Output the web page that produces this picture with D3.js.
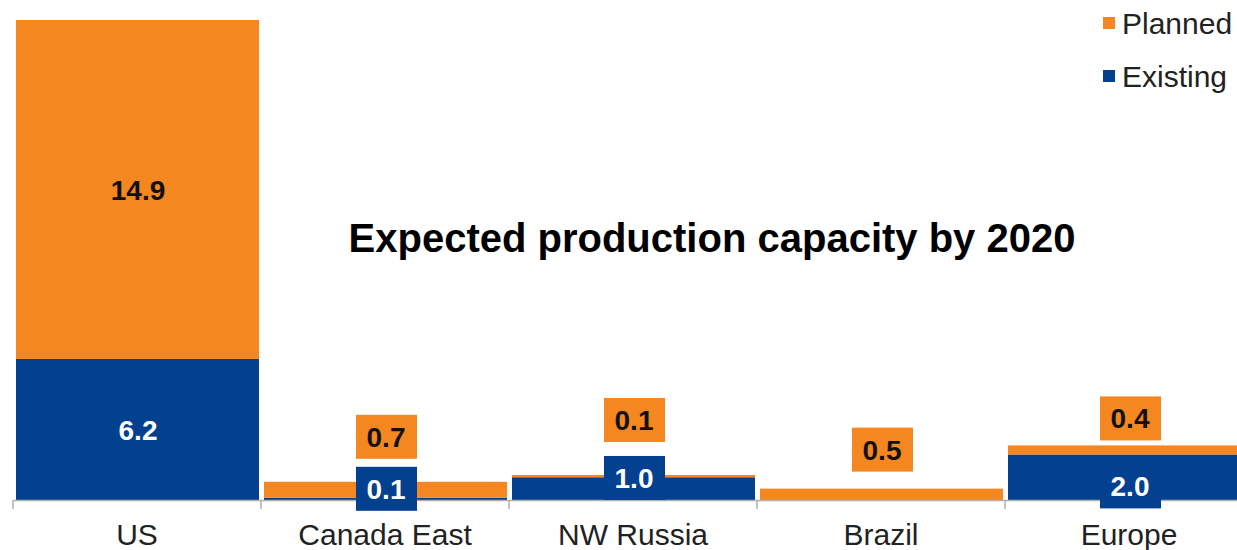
<!DOCTYPE html>
<html>
<head>
<meta charset="utf-8">
<script src="https://cdn.jsdelivr.net/npm/d3@7"></script>
<style>
  body { margin: 0; background: #fff; }
  text { font-family: "Liberation Sans", Arial, sans-serif; }
</style>
</head>
<body>
<svg id="chart" width="1237" height="550"></svg>
<script>
// data
const categories = ['US', 'Canada East', 'NW Russia', 'Brazil', 'Europe']
const existing = [6.2, 0.1, 1.0, 0, 2.0]
const planned = [14.9, 0.7, 0.1, 0.5, 0.4]
const seriesNames = ['Planned', 'Existing']

const ORANGE = '#f4871f'
const BLUE = '#03408f'

// label box placement, offset (px) of box centre from the top of the stack
// null = label sits inside its segment without a box
const plannedBoxDy = [null, -45, -55, -39, -27]
const existingBoxDy = [null, 7, 3, null, 41]

const margin = { top: 20, bottom: 50, left: 13 }
const width = 1237
const height = 550
const baseY = height - margin.bottom

const svg = d3.select('#chart')

const x = d3.scaleBand()
  .domain(categories)
  .range([margin.left, margin.left + 248 * categories.length])
  .padding(0)

const y = d3.scaleLinear()
  .domain([0, d3.max(categories, (c, i) => existing[i] + planned[i])])
  .range([baseY, margin.top])

const rows = categories.map((c, i) => ({ cat: c, existing: existing[i], planned: planned[i] }))
const stack = d3.stack().keys(['existing', 'planned'])(rows)
const colors = { existing: BLUE, planned: ORANGE }

// bars
svg.append('g').selectAll('g')
  .data(stack)
  .join('g')
    .attr('fill', s => colors[s.key])
  .selectAll('rect')
  .data(s => s)
  .join('rect')
    .attr('x', d => x(d.data.cat) + 3)
    .attr('width', x.bandwidth() - 5)
    .attr('y', d => y(d[1]))
    .attr('height', d => y(d[0]) - y(d[1]))

// axis: line plus ticks between categories
const axis = svg.append('g')
  .attr('transform', 'translate(0,' + baseY + ')')
  .call(d3.axisBottom(x).tickSize(0).tickPadding(24))
axis.select('.domain').attr('stroke', '#b0b0b0').attr('stroke-width', 1.5)
axis.selectAll('.tick text')
  .attr('font-size', 30)
  .attr('fill', '#222')
  .attr('font-family', '"Liberation Sans", Arial, sans-serif')

const edges = categories.map(c => x(c)).concat([x.range()[1]])
axis.selectAll('.edge')
  .data(edges)
  .join('line')
    .attr('class', 'edge')
    .attr('x1', d => d).attr('x2', d => d)
    .attr('y1', 0).attr('y2', 9)
    .attr('stroke', '#b0b0b0')
    .attr('stroke-width', 1.5)

// value labels
const labels = svg.append('g')
  .attr('font-weight', 'bold')
  .attr('font-size', 28)
  .attr('text-anchor', 'middle')

function addLabel (cx, cy, value, fill, textColor, boxed) {
  if (boxed) {
    labels.append('rect')
      .attr('x', cx - 30).attr('y', cy - 22)
      .attr('width', 61).attr('height', 44)
      .attr('fill', fill)
  }
  labels.append('text')
    .attr('x', cx).attr('y', cy)
    .attr('dy', '0.36em')
    .attr('fill', textColor)
    .text(d3.format('.1f')(value))
}

rows.forEach((r, i) => {
  const cx = x(r.cat) + x.bandwidth() / 2 + 1
  const top = y(r.existing + r.planned)
  if (plannedBoxDy[i] === null) {
    addLabel(cx, (y(r.existing) + y(r.existing + r.planned)) / 2, r.planned, ORANGE, '#111', false)
  } else {
    addLabel(cx, top + plannedBoxDy[i], r.planned, ORANGE, '#111', true)
  }
  if (r.existing > 0) {
    if (existingBoxDy[i] === null) {
      addLabel(cx, (y(0) + y(r.existing)) / 2, r.existing, BLUE, '#fff', false)
    } else {
      addLabel(cx, top + existingBoxDy[i], r.existing, BLUE, '#fff', true)
    }
  }
})

// title
svg.append('text')
  .attr('x', 712)
  .attr('y', 252)
  .attr('text-anchor', 'middle')
  .attr('font-weight', 'bold')
  .attr('font-size', 40)
  .attr('fill', '#000')
  .text('Expected production capacity by 2020')

// legend
const legend = svg.append('g')
  .selectAll('g')
  .data(seriesNames)
  .join('g')
    .attr('transform', (d, i) => 'translate(1103,' + (17 + i * 53) + ')')

legend.append('rect')
  .attr('width', 12).attr('height', 12)
  .attr('fill', d => d === 'Planned' ? ORANGE : BLUE)

legend.append('text')
  .attr('x', 19)
  .attr('y', 6)
  .attr('dy', '0.36em')
  .attr('font-size', 30)
  .attr('fill', '#222')
  .text(d => d)
</script>
</body>
</html>
